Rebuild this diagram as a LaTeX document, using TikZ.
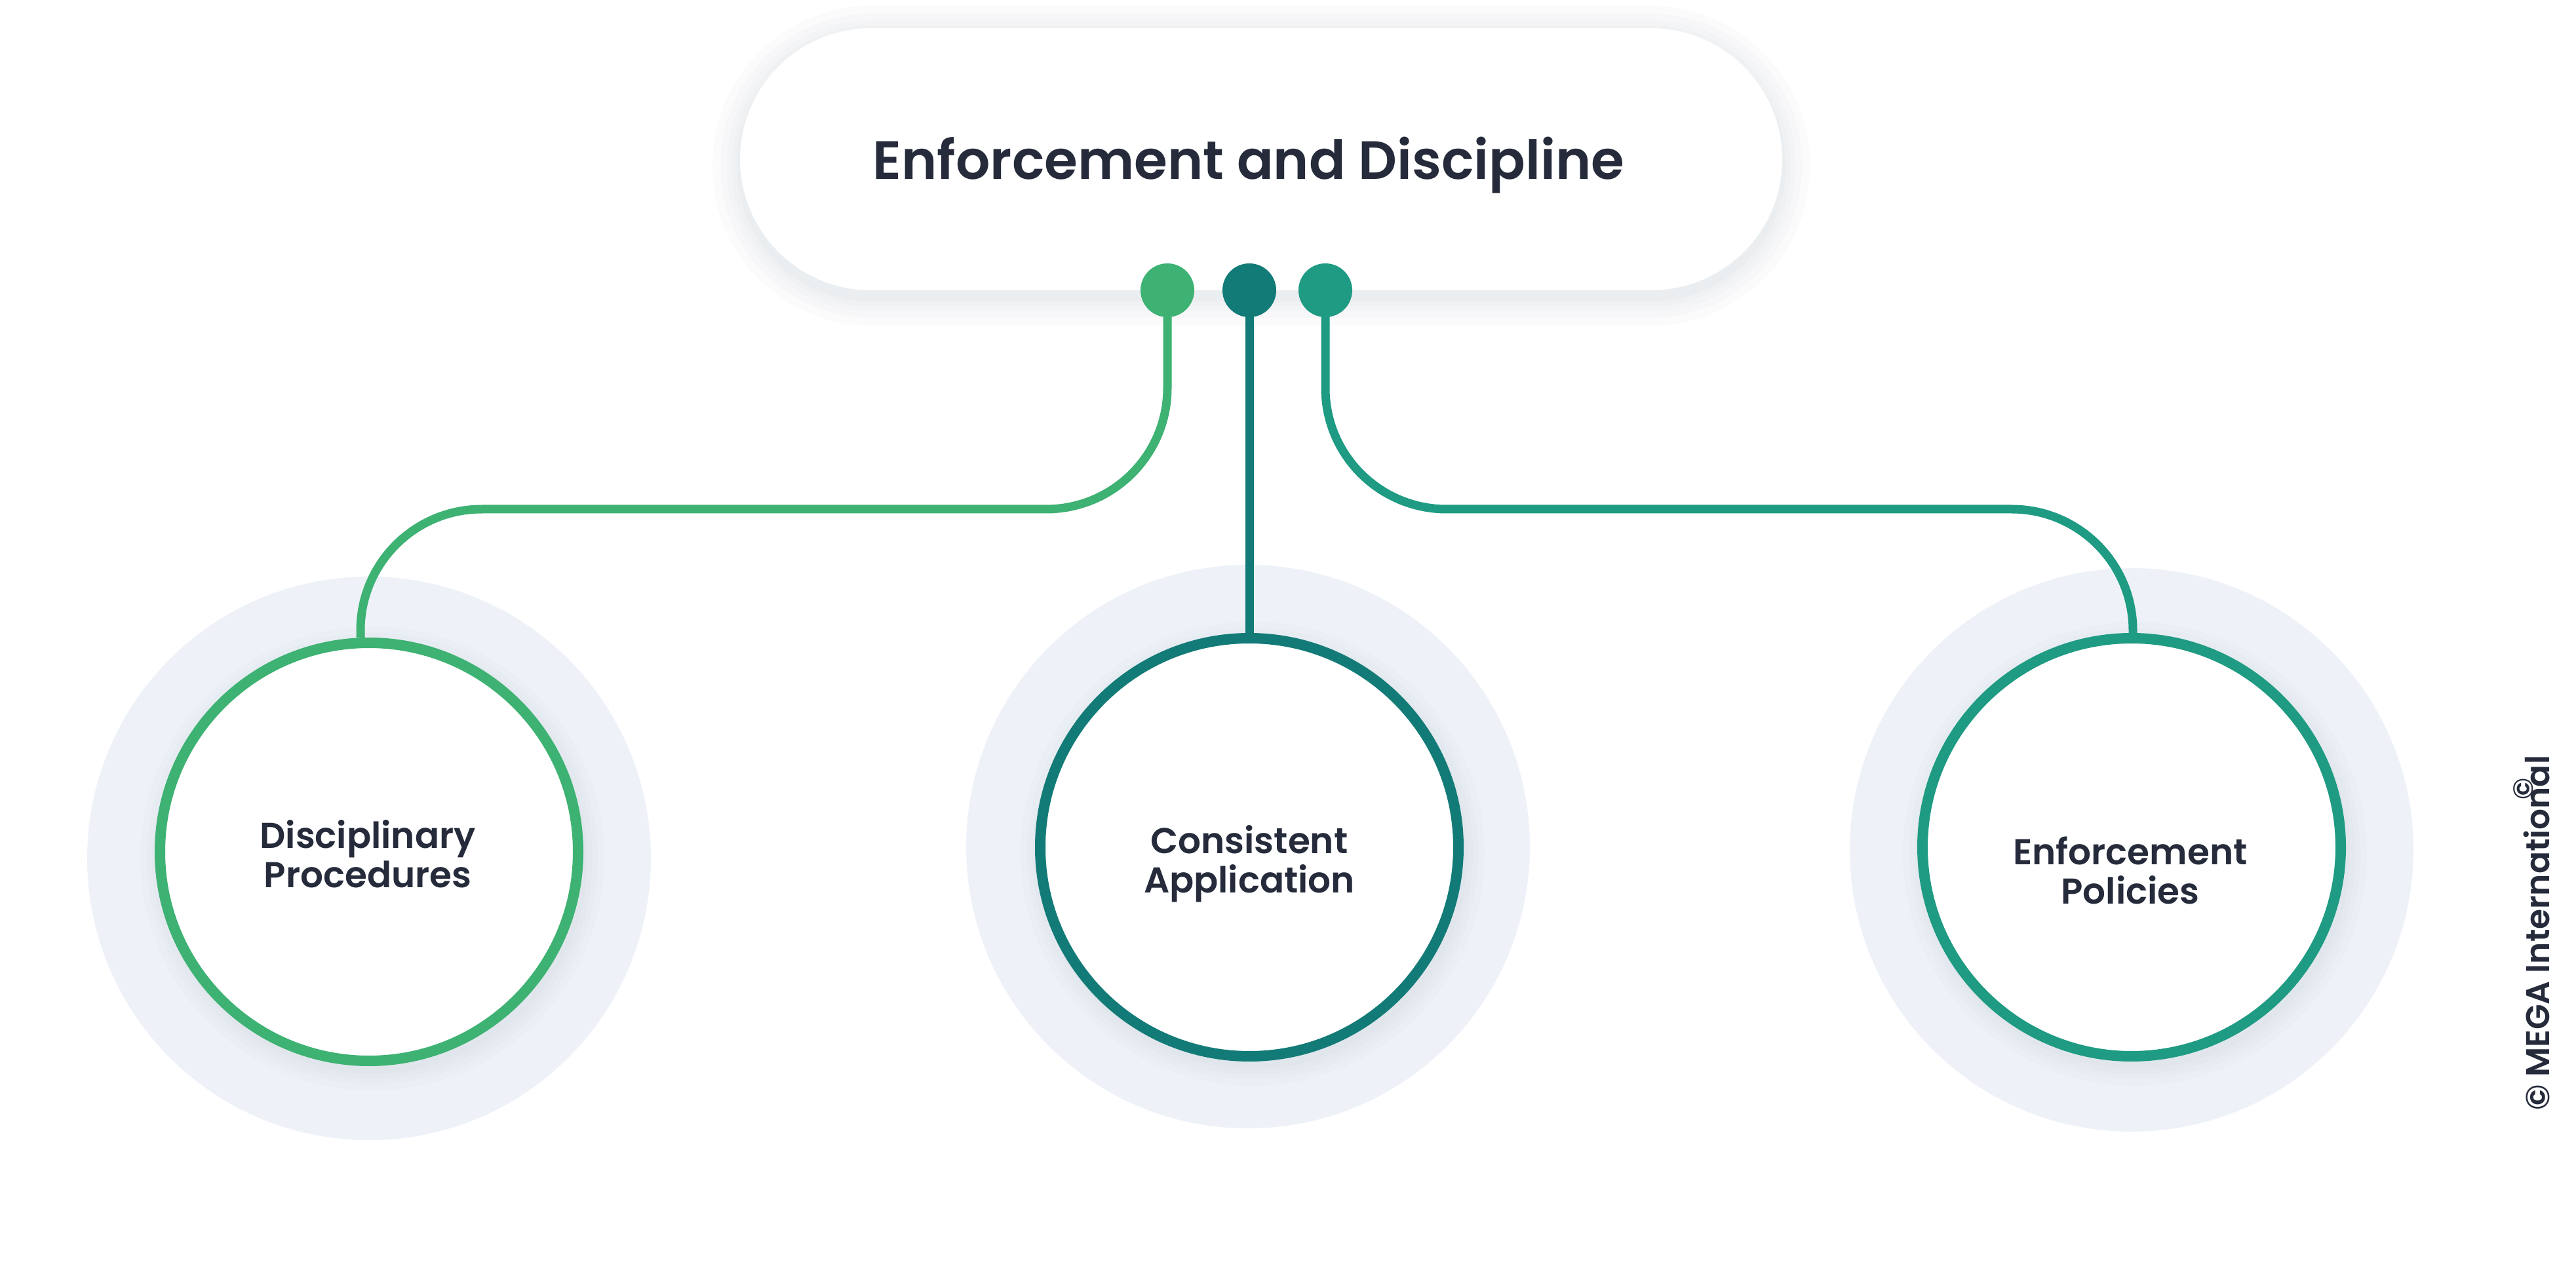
\documentclass[tikz,border=0pt]{standalone}
\usepackage{fontspec}
\setmainfont{Poppins}
\newfontfamily\labelfont{Poppins SemiBold}
\usetikzlibrary{calc,positioning}
\pgfdeclarelayer{halolayer}
\pgfdeclarelayer{edgelayer}
\pgfdeclarelayer{nodelayer}
\pgfsetlayers{halolayer,edgelayer,nodelayer,main}
\definecolor{leftgreen}{HTML}{3DB272}
\definecolor{midteal}{HTML}{137B77}
\definecolor{rightteal}{HTML}{1E9B82}
\definecolor{ink}{HTML}{262B3B}
\definecolor{haloblue}{HTML}{EEF2F8}
\definecolor{shade}{HTML}{2A3A66}
\tikzset{
    halo disc/.style={circle, fill=haloblue, minimum size=8.6cm, inner sep=0pt},
    topic/.style={circle, draw=#1, line width=0.16cm, fill=white,
        minimum size=6.38cm, inner sep=0pt},
    tag/.style={align=center, text=ink, text depth=0pt,
        font=\labelfont\fontsize{15.6}{17.1}\selectfont},
    knob/.style={circle, fill=#1, minimum size=0.82cm, inner sep=0pt},
    link/.style={draw=#1, line width=0.13cm, rounded corners=1.85cm},
    soft/.style={fill=shade, opacity=0.014},
}

\begin{document}
\begin{tikzpicture}
    \useasboundingbox (0, 0) rectangle (39.30, -19.29);
        \coordinate (o1) at (5.63, -13.00);
        \coordinate (o2) at (19.06, -12.93);
        \coordinate (o3) at (32.52, -12.93);
        \coordinate (o0) at (19.24, -2.43);
    \begin{pgfonlayer}{halolayer}
            \fill [white] (0, 0) rectangle (39.30, -19.29);
            \node [halo disc] (h1) at (5.63, -13.10) {};
            \node [halo disc] (h2) at (19.04, -12.92) {};
            \node [halo disc] (h3) at (32.52, -12.97) {};
            % soft shadows
            \foreach \o in {o1, o2, o3}
                \foreach \r in {3.28, 3.36, 3.44, 3.54}
                    \fill [soft] ($(\o)+(0.05, -0.10)$) circle [radius=\r];
            \foreach \e in {0.05, 0.12, 0.20, 0.30, 0.42}
                \fill [soft, rounded corners=2cm+\e cm]
                      ($(o0)+(-7.95-\e, -2.12-\e)$) rectangle ($(o0)+(7.95+\e, 1.92+\e)$);
    \end{pgfonlayer}
    \begin{pgfonlayer}{nodelayer}
            % title bar
            \node [rectangle, rounded corners=2cm, fill=white, minimum width=15.9cm,
                   minimum height=4cm] (p0) at (o0) {};
            \node [text=ink, text depth=0pt, font=\labelfont\fontsize{23.4}{25}\selectfont] (t0) at (19.05, -2.41)
                   {Enforcement and Discipline};
            % the three topics
            \node [topic=leftgreen] (c1) at (o1) {};
            \node [topic=midteal] (c2) at (o2) {};
            \node [topic=rightteal] (c3) at (o3) {};
            \node [tag] (t1) at (5.61, -13.03) {Disciplinary\\Procedures};
            \node [tag] (t2) at (19.06, -13.11) {Consistent\\Application};
            \node [tag] (t3) at (32.50, -13.28) {Enforcement\\Policies};
    \end{pgfonlayer}
        \node [knob=leftgreen] (k1) at (17.81, -4.43) {};
        \node [knob=midteal] (k2) at (19.06, -4.43) {};
        \node [knob=rightteal] (k3) at (20.22, -4.43) {};
        \coordinate (j1) at (5.50, -7.77);
        \coordinate (j3) at (32.54, -7.77);
    \begin{pgfonlayer}{edgelayer}
            \draw [link=leftgreen] (k1.center) |- (j1) -- (c1.north -| j1);
            \draw [link=midteal] (k2.center) -- (c2.north);
            \draw [link=rightteal] (k3.center) |- (j3) -- (c3.north -| j3);
    \end{pgfonlayer}
        % watermark
        \node [rotate=90, text=ink, font=\labelfont\fontsize{14.3}{15}\selectfont] (w0) at (38.70, -14.24)
               {© MEGA International};
        \node [rotate=90, text=ink, font=\labelfont\fontsize{12}{14}\selectfont] (w1) at (38.50, -12.04) {©};
\end{tikzpicture}
\end{document}
